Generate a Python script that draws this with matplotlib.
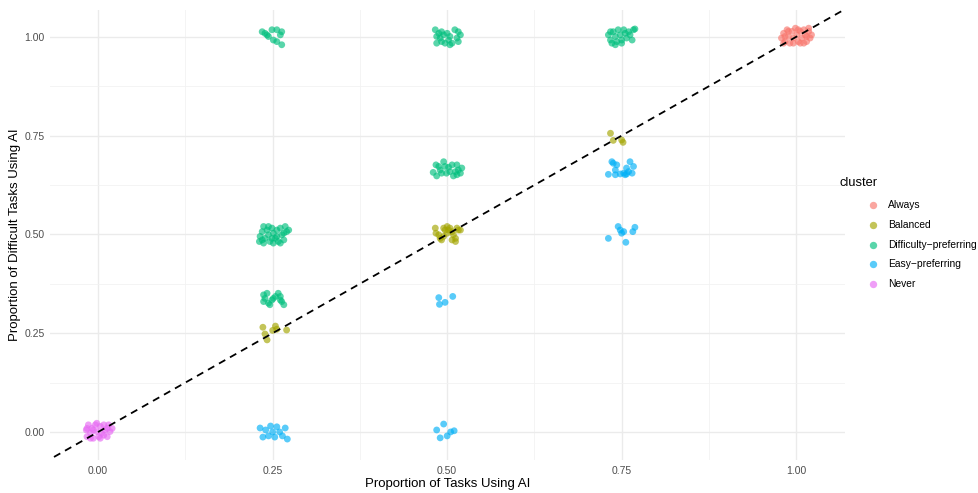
import numpy as np
import matplotlib
matplotlib.use("Agg")
import matplotlib.pyplot as plt
from matplotlib.lines import Line2D

plt.rcParams["font.family"] = ["Liberation Sans", "DejaVu Sans"]

# Jittered points, one pair of lists per cluster
always_x = [0.979, 0.982, 0.984, 0.987, 0.989, 0.991, 0.994, 0.996, 0.999, 1.001,
            1.003, 1.006, 1.008, 1.011, 1.013, 1.015, 1.018, 1.020, 1.022, 0.982,
            0.996, 1.011, 1.018, 0.989, 1.003, 1.015, 1.006, 0.984]
always_y = [0.997, 1.009, 0.988, 1.018, 1.001, 0.984, 1.014, 0.997, 1.022, 1.005,
            0.988, 1.014, 0.997, 1.018, 1.005, 0.988, 1.014, 0.997, 1.005, 0.984,
            0.984, 0.984, 1.022, 1.014, 1.018, 1.001, 0.984, 1.001]

never_x = [-0.017, -0.016, -0.014, -0.011, -0.009, -0.007, -0.004, -0.002, 0.001, 0.003,
           0.005, 0.008, 0.010, 0.013, 0.015, 0.017, 0.020, -0.011, 0.003, -0.007,
           0.013, -0.016, -0.002, 0.008]
never_y = [0.005, -0.012, 0.018, -0.003, 0.009, -0.016, 0.018, 0.001, -0.012, 0.014,
           -0.003, 0.018, 0.005, -0.012, 0.018, 0.001, 0.009, -0.016, -0.016, 0.005,
           0.009, 0.009, 0.022, -0.008]

difficulty_x = [
    # (0.25, 1)
    0.235, 0.239, 0.242, 0.244, 0.249, 0.256, 0.263, 0.261, 0.251, 0.256, 0.263,
    # (0.5, 1)
    0.483, 0.488, 0.492, 0.485, 0.490, 0.495, 0.500, 0.504, 0.502, 0.507, 0.504,
    0.511, 0.516, 0.519, 0.514, 0.516, 0.485, 0.492, 0.497,
    # (0.75, 1)
    0.731, 0.734, 0.736, 0.738, 0.741, 0.743, 0.745, 0.748, 0.750, 0.753, 0.755,
    0.757, 0.760, 0.762, 0.765, 0.767, 0.769, 0.750, 0.741, 0.734,
    # (0.5, 0.667)
    0.480, 0.484, 0.485, 0.490, 0.495, 0.497, 0.499, 0.502, 0.507, 0.509, 0.514,
    0.516, 0.519, 0.521, 0.512, 0.504, 0.492, 0.514, 0.488,
    # (0.25, 0.5)
    0.232, 0.231, 0.235, 0.237, 0.239, 0.242, 0.244, 0.246, 0.249, 0.251, 0.254,
    0.256, 0.258, 0.261, 0.263, 0.266, 0.268, 0.270, 0.273, 0.237, 0.251, 0.261,
    0.244, 0.256, 0.266, 0.235, 0.249,
    # (0.25, 0.333)
    0.237, 0.239, 0.237, 0.242, 0.244, 0.246, 0.251, 0.254, 0.258, 0.261, 0.263,
    0.266, 0.261, 0.249]
difficulty_y = [
    1.013, 1.009, 1.005, 1.001, 1.018, 1.018, 1.013, 1.005, 0.992, 0.988, 0.980,
    1.018, 1.009, 1.013, 1.001, 0.997, 1.005, 1.009, 1.001, 0.992, 0.984, 0.980,
    1.018, 1.013, 1.005, 0.997, 0.988, 0.984, 0.988, 0.984,
    1.005, 0.992, 0.984, 1.013, 1.001, 0.988, 1.018, 1.005, 0.992, 1.018, 1.009,
    0.997, 1.013, 1.005, 0.992, 1.018, 1.020, 0.984, 0.980, 1.013,
    0.657, 0.676, 0.648, 0.663, 0.684, 0.672, 0.655, 0.670, 0.676, 0.648, 0.676,
    0.663, 0.655, 0.668, 0.659, 0.659, 0.655, 0.651, 0.672,
    0.495, 0.482, 0.507, 0.520, 0.490, 0.511, 0.499, 0.482, 0.516, 0.503, 0.490,
    0.511, 0.482, 0.516, 0.499, 0.486, 0.520, 0.507, 0.511, 0.478, 0.478, 0.478,
    0.520, 0.495, 0.503, 0.486, 0.490,
    0.347, 0.338, 0.330, 0.351, 0.326, 0.322, 0.338, 0.343, 0.351, 0.343, 0.330,
    0.322, 0.334, 0.334]

balanced_x = [
    # (0.75, 0.75)
    0.734, 0.738, 0.750, 0.752,
    # (0.5, 0.5)
    0.483, 0.484, 0.490, 0.492, 0.495, 0.497, 0.500, 0.502, 0.504, 0.507, 0.509,
    0.512, 0.514, 0.516, 0.519, 0.512, 0.507, 0.495, 0.500, 0.488,
    # (0.25, 0.25)
    0.236, 0.239, 0.242, 0.250, 0.254, 0.256, 0.270]
balanced_y = [
    0.756, 0.738, 0.739, 0.733,
    0.516, 0.503, 0.490, 0.486, 0.516, 0.511, 0.520, 0.511, 0.516, 0.507, 0.499,
    0.490, 0.516, 0.511, 0.511, 0.482, 0.486, 0.495, 0.503, 0.499,
    0.265, 0.248, 0.233, 0.257, 0.268, 0.260, 0.258]

easy_x = [
    # (0.75, 0.667)
    0.736, 0.738, 0.743, 0.741, 0.731, 0.741, 0.748, 0.753, 0.757, 0.760, 0.762,
    0.767, 0.765, 0.757, 0.755,
    # (0.75, 0.5)
    0.731, 0.745, 0.748, 0.750, 0.753, 0.756, 0.766, 0.769,
    # (0.5, 0.333)
    0.488, 0.489, 0.497, 0.508,
    # (0.25, 0)
    0.232, 0.236, 0.240, 0.244, 0.247, 0.250, 0.253, 0.256, 0.260, 0.264, 0.268,
    0.271,
    # (0.5, 0)
    0.485, 0.490, 0.495, 0.500, 0.505, 0.510]
easy_y = [
    0.684, 0.680, 0.676, 0.663, 0.652, 0.651, 0.653, 0.655, 0.668, 0.659, 0.684,
    0.672, 0.655, 0.653, 0.651,
    0.490, 0.520, 0.511, 0.503, 0.507, 0.480, 0.507, 0.518,
    0.340, 0.323, 0.328, 0.343,
    0.010, -0.013, 0.005, -0.010, 0.015, 0.000, -0.013, 0.013, 0.000, -0.010, 0.010,
    -0.018,
    0.005, -0.015, 0.020, -0.010, 0.000, 0.003]

cluster_names = ["Always", "Balanced", "Difficulty\u2212preferring", "Easy\u2212preferring", "Never"]
cluster_colors = ["#F8766D", "#A3A500", "#00BF7D", "#00B0F6", "#E76BF3"]
cluster_points = [(always_x, always_y), (balanced_x, balanced_y),
                  (difficulty_x, difficulty_y), (easy_x, easy_y), (never_x, never_y)]

ticks = [0.0, 0.25, 0.5, 0.75, 1.0]
tick_labels = ["0.00", "0.25", "0.50", "0.75", "1.00"]
minor_ticks = [0.125, 0.375, 0.625, 0.875]

W, H = 979, 493
fig = plt.figure(figsize=(W / 100, H / 100), dpi=100)
ax = fig.add_axes([50 / W, 1 - 460 / H, 795 / W, 450 / H])

for (xs, ys), col in zip(cluster_points, cluster_colors):
    ax.scatter(xs, ys, s=24, color=col, alpha=0.65, edgecolors="none", zorder=3)

# y = x reference line
ax.plot([-0.2, 1.2], [-0.2, 1.2], color="black", linestyle=(0, (4, 3)), linewidth=1.3, zorder=4)

ax.set_xlim(-0.069, 1.07)
ax.set_ylim(-0.071, 1.068)
ax.set_xticks(ticks)
ax.set_xticklabels(tick_labels)
ax.set_yticks(ticks)
ax.set_yticklabels(tick_labels)
ax.set_xticks(minor_ticks, minor=True)
ax.set_yticks(minor_ticks, minor=True)
ax.grid(True, which="major", color="#EBEBEB", linewidth=1.0, zorder=0)
ax.grid(True, which="minor", color="#F2F2F2", linewidth=0.6, zorder=0)
ax.set_axisbelow(True)
ax.tick_params(which="both", length=0, labelsize=7.5, labelcolor="#4D4D4D", pad=4)
for sp in ax.spines.values():
    sp.set_visible(False)

ax.set_xlabel("Proportion of Tasks Using AI", fontsize=9.5)
ax.set_ylabel("Proportion of Difficult Tasks Using AI", fontsize=9.5)
ax.xaxis.set_label_coords(0.5, (460 - 484) / 450)
ax.yaxis.set_label_coords((15 - 50) / 795, 0.5)
ax.xaxis.label.set_va("center")
ax.yaxis.label.set_va("center")

# legend drawn by hand so it sits where ggplot puts it
fig.text(840 / W, 1 - 183 / H, "cluster", fontsize=9.3, va="center", ha="left")
for i, (name, col) in enumerate(zip(cluster_names, cluster_colors)):
    yy = 1 - (205 + i * 19.8) / H
    fig.add_artist(Line2D([873 / W], [yy], transform=fig.transFigure, marker="o",
                          linestyle="none", markersize=5.3, color=col, alpha=0.65,
                          markeredgewidth=0))
    fig.text(888 / W, yy, name, fontsize=7.4, va="center", ha="left")

fig.savefig("out.png", dpi=100)
